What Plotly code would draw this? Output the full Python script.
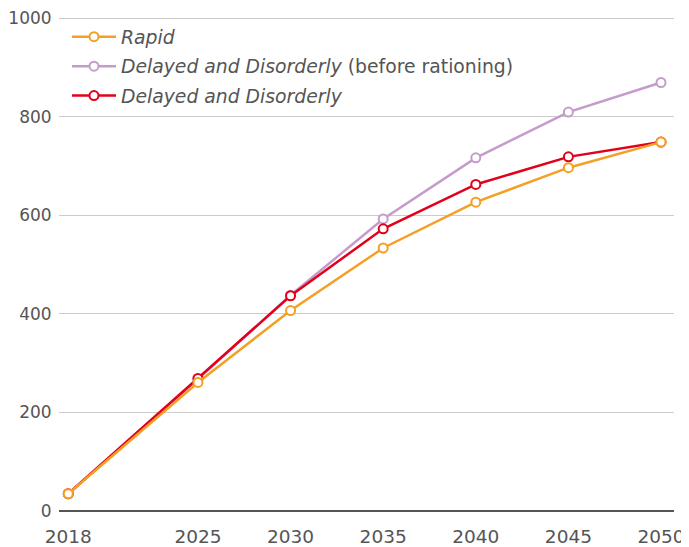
import plotly.graph_objects as go

years = [2018, 2025, 2030, 2035, 2040, 2045, 2050]
rapid = [35, 261, 407, 534, 627, 697, 749]
delayed_before = [35, 268, 438, 593, 717, 810, 870]
delayed = [35, 269, 437, 573, 663, 719, 749]

x_ticks = [2018, 2025, 2030, 2035, 2040, 2045, 2050]
y_ticks = [0, 200, 400, 600, 800, 1000]

C_ORANGE = "#F49F25"
C_PURPLE = "#C59BCC"
C_RED = "#E2001A"

FONT = "DejaVu Sans"
FS = 18.5

fig = go.Figure()

def add(y, name, color, rank):
    fig.add_trace(go.Scatter(
        x=years, y=y, name=name, mode="lines+markers",
        line=dict(color=color, width=2.5),
        marker=dict(symbol="circle", size=9, color="white",
                    line=dict(color=color, width=2)),
        legendrank=rank, legendgroup=str(rank), cliponaxis=False,
    ))

add(delayed_before, "<i>Delayed and Disorderly</i> (before rationing)", C_PURPLE, 2)
add(delayed, "<i>Delayed and Disorderly</i>", C_RED, 3)
add(rapid, "<i>Rapid</i>", C_ORANGE, 1)

fig.update_layout(
    width=681, height=539,
    margin=dict(l=51, r=15, t=7.5, b=36),
    paper_bgcolor="white", plot_bgcolor="white",
    font=dict(family=FONT, size=FS, color="#555555"),
    showlegend=True,
    legend=dict(x=0.013, y=0.996, xanchor="left", yanchor="top",
                bgcolor="rgba(0,0,0,0)", itemwidth=44,
                font=dict(family=FONT, size=18.8, color="#555555"),
                traceorder="grouped", tracegroupgap=2),
    xaxis=dict(range=[2017.5, 2050.7], tickvals=x_ticks,
               ticktext=[str(v) for v in x_ticks],
               showgrid=False, zeroline=False, showline=False,
               ticks="outside", ticklen=9, tickcolor="rgba(0,0,0,0)",
               automargin=False, ticklabeloverflow="allow"),
    yaxis=dict(range=[0, 1005], tickvals=y_ticks,
               tickfont=dict(size=17),
               showgrid=True, gridcolor="#CCCCCC", gridwidth=1,
               zeroline=True, zerolinecolor="#555555", zerolinewidth=2,
               showline=False, ticks="outside", ticklen=3,
               tickcolor="rgba(0,0,0,0)", automargin=False,
               ticklabeloverflow="allow"),
)

fig.write_html("out.html")
